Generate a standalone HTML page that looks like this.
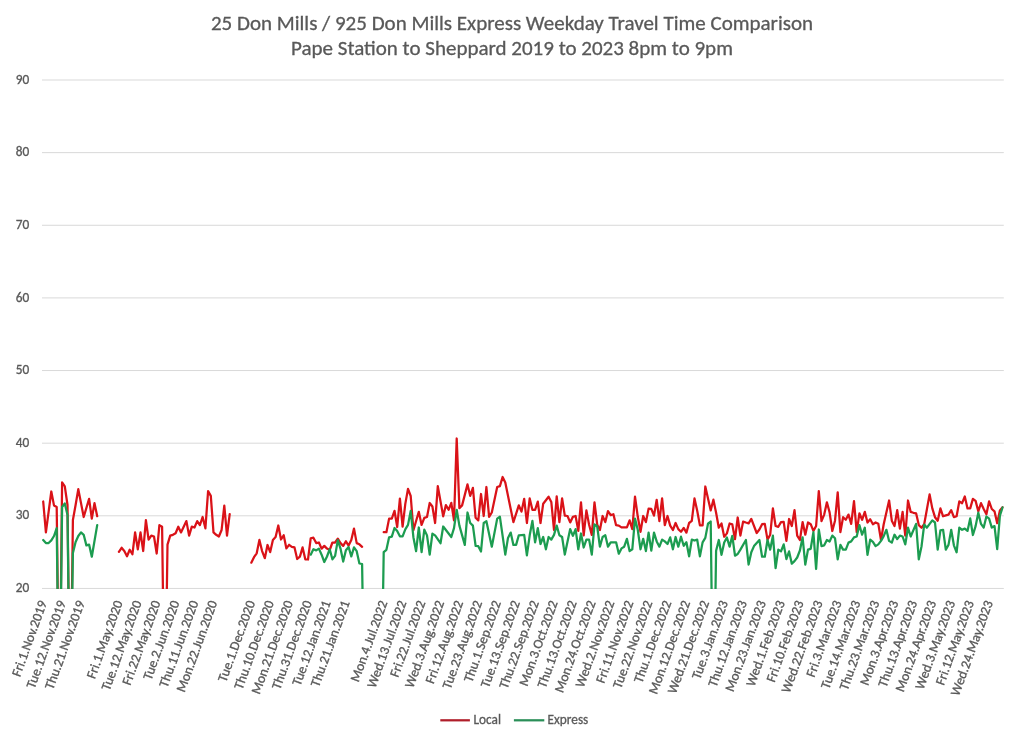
<!DOCTYPE html><html><head><meta charset="utf-8"><title>25 Don Mills / 925 Don Mills Express Weekday Travel Time Comparison</title>
<style>html,body{margin:0;padding:0;background:#fff;}svg{display:block;}text{font-family:Carlito, "Liberation Sans", sans-serif;fill:#595959;stroke:#595959;stroke-width:0.3px;}</style></head><body>
<svg width="1024" height="740" viewBox="0 0 1024 740">
<rect width="1024" height="740" fill="#fff"/>
<text x="512" y="29.8" text-anchor="middle" font-size="21.0" textLength="602.11" lengthAdjust="spacingAndGlyphs">25 Don Mills / 925 Don Mills Express Weekday Travel Time Comparison</text>
<text x="512" y="55.0" text-anchor="middle" font-size="21.0" textLength="441.86" lengthAdjust="spacingAndGlyphs">Pape Station to Sheppard 2019 to 2023 8pm to 9pm</text>
<line x1="42.0" x2="1003.8" y1="588.45" y2="588.45" stroke="#d9d9d9" stroke-width="1"/>
<text x="29.2" y="592.05" text-anchor="end" font-size="13.3" textLength="13.48" lengthAdjust="spacingAndGlyphs">20</text>
<line x1="42.0" x2="1003.8" y1="515.81" y2="515.81" stroke="#d9d9d9" stroke-width="1"/>
<text x="29.2" y="519.41" text-anchor="end" font-size="13.3" textLength="13.48" lengthAdjust="spacingAndGlyphs">30</text>
<line x1="42.0" x2="1003.8" y1="443.18" y2="443.18" stroke="#d9d9d9" stroke-width="1"/>
<text x="29.2" y="446.78" text-anchor="end" font-size="13.3" textLength="13.48" lengthAdjust="spacingAndGlyphs">40</text>
<line x1="42.0" x2="1003.8" y1="370.54" y2="370.54" stroke="#d9d9d9" stroke-width="1"/>
<text x="29.2" y="374.14" text-anchor="end" font-size="13.3" textLength="13.48" lengthAdjust="spacingAndGlyphs">50</text>
<line x1="42.0" x2="1003.8" y1="297.91" y2="297.91" stroke="#d9d9d9" stroke-width="1"/>
<text x="29.2" y="301.51" text-anchor="end" font-size="13.3" textLength="13.48" lengthAdjust="spacingAndGlyphs">60</text>
<line x1="42.0" x2="1003.8" y1="225.27" y2="225.27" stroke="#d9d9d9" stroke-width="1"/>
<text x="29.2" y="228.87" text-anchor="end" font-size="13.3" textLength="13.48" lengthAdjust="spacingAndGlyphs">70</text>
<line x1="42.0" x2="1003.8" y1="152.64" y2="152.64" stroke="#d9d9d9" stroke-width="1"/>
<text x="29.2" y="156.24" text-anchor="end" font-size="13.3" textLength="13.48" lengthAdjust="spacingAndGlyphs">80</text>
<line x1="42.0" x2="1003.8" y1="80.00" y2="80.00" stroke="#d9d9d9" stroke-width="1"/>
<text x="29.2" y="83.60" text-anchor="end" font-size="13.3" textLength="13.48" lengthAdjust="spacingAndGlyphs">90</text>
<text transform="translate(47.20,602.5) rotate(-70)" text-anchor="end" font-size="13.6" textLength="79.77" lengthAdjust="spacingAndGlyphs">Fri.1.Nov.2019</text>
<text transform="translate(66.12,602.5) rotate(-70)" text-anchor="end" font-size="13.6" textLength="92.23" lengthAdjust="spacingAndGlyphs">Tue.12.Nov.2019</text>
<text transform="translate(85.03,602.5) rotate(-70)" text-anchor="end" font-size="13.6" textLength="93.45" lengthAdjust="spacingAndGlyphs">Thu.21.Nov.2019</text>
<text transform="translate(122.87,602.5) rotate(-70)" text-anchor="end" font-size="13.6" textLength="82.00" lengthAdjust="spacingAndGlyphs">Fri.1.May.2020</text>
<text transform="translate(141.79,602.5) rotate(-70)" text-anchor="end" font-size="13.6" textLength="94.47" lengthAdjust="spacingAndGlyphs">Tue.12.May.2020</text>
<text transform="translate(160.71,602.5) rotate(-70)" text-anchor="end" font-size="13.6" textLength="88.89" lengthAdjust="spacingAndGlyphs">Fri.22.May.2020</text>
<text transform="translate(179.62,602.5) rotate(-70)" text-anchor="end" font-size="13.6" textLength="83.19" lengthAdjust="spacingAndGlyphs">Tue.2.Jun.2020</text>
<text transform="translate(198.54,602.5) rotate(-70)" text-anchor="end" font-size="13.6" textLength="91.30" lengthAdjust="spacingAndGlyphs">Thu.11.Jun.2020</text>
<text transform="translate(217.46,602.5) rotate(-70)" text-anchor="end" font-size="13.6" textLength="96.31" lengthAdjust="spacingAndGlyphs">Mon.22.Jun.2020</text>
<text transform="translate(255.29,602.5) rotate(-70)" text-anchor="end" font-size="13.6" textLength="85.31" lengthAdjust="spacingAndGlyphs">Tue.1.Dec.2020</text>
<text transform="translate(274.21,602.5) rotate(-70)" text-anchor="end" font-size="13.6" textLength="93.42" lengthAdjust="spacingAndGlyphs">Thu.10.Dec.2020</text>
<text transform="translate(293.13,602.5) rotate(-70)" text-anchor="end" font-size="13.6" textLength="98.45" lengthAdjust="spacingAndGlyphs">Mon.21.Dec.2020</text>
<text transform="translate(312.05,602.5) rotate(-70)" text-anchor="end" font-size="13.6" textLength="93.42" lengthAdjust="spacingAndGlyphs">Thu.31.Dec.2020</text>
<text transform="translate(330.96,602.5) rotate(-70)" text-anchor="end" font-size="13.6" textLength="89.44" lengthAdjust="spacingAndGlyphs">Tue.12.Jan.2021</text>
<text transform="translate(349.88,602.5) rotate(-70)" text-anchor="end" font-size="13.6" textLength="90.66" lengthAdjust="spacingAndGlyphs">Thu.21.Jan.2021</text>
<text transform="translate(387.72,602.5) rotate(-70)" text-anchor="end" font-size="13.6" textLength="85.41" lengthAdjust="spacingAndGlyphs">Mon.4.Jul.2022</text>
<text transform="translate(406.63,602.5) rotate(-70)" text-anchor="end" font-size="13.6" textLength="91.86" lengthAdjust="spacingAndGlyphs">Wed.13.Jul.2022</text>
<text transform="translate(425.55,602.5) rotate(-70)" text-anchor="end" font-size="13.6" textLength="80.47" lengthAdjust="spacingAndGlyphs">Fri.22.Jul.2022</text>
<text transform="translate(444.47,602.5) rotate(-70)" text-anchor="end" font-size="13.6" textLength="91.73" lengthAdjust="spacingAndGlyphs">Wed.3.Aug.2022</text>
<text transform="translate(463.38,602.5) rotate(-70)" text-anchor="end" font-size="13.6" textLength="87.23" lengthAdjust="spacingAndGlyphs">Fri.12.Aug.2022</text>
<text transform="translate(482.30,602.5) rotate(-70)" text-anchor="end" font-size="13.6" textLength="92.81" lengthAdjust="spacingAndGlyphs">Tue.23.Aug.2022</text>
<text transform="translate(501.22,602.5) rotate(-70)" text-anchor="end" font-size="13.6" textLength="85.81" lengthAdjust="spacingAndGlyphs">Thu.1.Sep.2022</text>
<text transform="translate(520.14,602.5) rotate(-70)" text-anchor="end" font-size="13.6" textLength="91.48" lengthAdjust="spacingAndGlyphs">Tue.13.Sep.2022</text>
<text transform="translate(539.06,602.5) rotate(-70)" text-anchor="end" font-size="13.6" textLength="92.70" lengthAdjust="spacingAndGlyphs">Thu.22.Sep.2022</text>
<text transform="translate(557.97,602.5) rotate(-70)" text-anchor="end" font-size="13.6" textLength="89.84" lengthAdjust="spacingAndGlyphs">Mon.3.Oct.2022</text>
<text transform="translate(576.89,602.5) rotate(-70)" text-anchor="end" font-size="13.6" textLength="91.70" lengthAdjust="spacingAndGlyphs">Thu.13.Oct.2022</text>
<text transform="translate(595.81,602.5) rotate(-70)" text-anchor="end" font-size="13.6" textLength="96.73" lengthAdjust="spacingAndGlyphs">Mon.24.Oct.2022</text>
<text transform="translate(614.73,602.5) rotate(-70)" text-anchor="end" font-size="13.6" textLength="91.16" lengthAdjust="spacingAndGlyphs">Wed.2.Nov.2022</text>
<text transform="translate(633.64,602.5) rotate(-70)" text-anchor="end" font-size="13.6" textLength="86.66" lengthAdjust="spacingAndGlyphs">Fri.11.Nov.2022</text>
<text transform="translate(652.56,602.5) rotate(-70)" text-anchor="end" font-size="13.6" textLength="92.23" lengthAdjust="spacingAndGlyphs">Tue.22.Nov.2022</text>
<text transform="translate(671.48,602.5) rotate(-70)" text-anchor="end" font-size="13.6" textLength="86.53" lengthAdjust="spacingAndGlyphs">Thu.1.Dec.2022</text>
<text transform="translate(690.40,602.5) rotate(-70)" text-anchor="end" font-size="13.6" textLength="98.45" lengthAdjust="spacingAndGlyphs">Mon.12.Dec.2022</text>
<text transform="translate(709.31,602.5) rotate(-70)" text-anchor="end" font-size="13.6" textLength="98.02" lengthAdjust="spacingAndGlyphs">Wed.21.Dec.2022</text>
<text transform="translate(728.23,602.5) rotate(-70)" text-anchor="end" font-size="13.6" textLength="82.55" lengthAdjust="spacingAndGlyphs">Tue.3.Jan.2023</text>
<text transform="translate(747.15,602.5) rotate(-70)" text-anchor="end" font-size="13.6" textLength="90.66" lengthAdjust="spacingAndGlyphs">Thu.12.Jan.2023</text>
<text transform="translate(766.07,602.5) rotate(-70)" text-anchor="end" font-size="13.6" textLength="95.69" lengthAdjust="spacingAndGlyphs">Mon.23.Jan.2023</text>
<text transform="translate(784.98,602.5) rotate(-70)" text-anchor="end" font-size="13.6" textLength="90.20" lengthAdjust="spacingAndGlyphs">Wed.1.Feb.2023</text>
<text transform="translate(803.90,602.5) rotate(-70)" text-anchor="end" font-size="13.6" textLength="85.70" lengthAdjust="spacingAndGlyphs">Fri.10.Feb.2023</text>
<text transform="translate(822.82,602.5) rotate(-70)" text-anchor="end" font-size="13.6" textLength="97.09" lengthAdjust="spacingAndGlyphs">Wed.22.Feb.2023</text>
<text transform="translate(841.74,602.5) rotate(-70)" text-anchor="end" font-size="13.6" textLength="80.36" lengthAdjust="spacingAndGlyphs">Fri.3.Mar.2023</text>
<text transform="translate(860.65,602.5) rotate(-70)" text-anchor="end" font-size="13.6" textLength="92.83" lengthAdjust="spacingAndGlyphs">Tue.14.Mar.2023</text>
<text transform="translate(879.57,602.5) rotate(-70)" text-anchor="end" font-size="13.6" textLength="94.06" lengthAdjust="spacingAndGlyphs">Thu.23.Mar.2023</text>
<text transform="translate(898.49,602.5) rotate(-70)" text-anchor="end" font-size="13.6" textLength="89.14" lengthAdjust="spacingAndGlyphs">Mon.3.Apr.2023</text>
<text transform="translate(917.41,602.5) rotate(-70)" text-anchor="end" font-size="13.6" textLength="91.02" lengthAdjust="spacingAndGlyphs">Thu.13.Apr.2023</text>
<text transform="translate(936.32,602.5) rotate(-70)" text-anchor="end" font-size="13.6" textLength="96.03" lengthAdjust="spacingAndGlyphs">Mon.24.Apr.2023</text>
<text transform="translate(955.24,602.5) rotate(-70)" text-anchor="end" font-size="13.6" textLength="93.39" lengthAdjust="spacingAndGlyphs">Wed.3.May.2023</text>
<text transform="translate(974.16,602.5) rotate(-70)" text-anchor="end" font-size="13.6" textLength="88.89" lengthAdjust="spacingAndGlyphs">Fri.12.May.2023</text>
<text transform="translate(993.08,602.5) rotate(-70)" text-anchor="end" font-size="13.6" textLength="100.28" lengthAdjust="spacingAndGlyphs">Wed.24.May.2023</text>
<clipPath id="pa"><rect x="42.0" y="75.0" width="961.8" height="513.95"/></clipPath>
<g clip-path="url(#pa)" fill="none" stroke-linejoin="round" stroke-linecap="round">
<polyline stroke="#da1218" stroke-width="2.25" points="43.2,501.5 45.9,532.4 51.3,491.5 54.0,505.4 56.7,506.9 59.4,733.0 62.1,482.3 64.8,486.3 67.5,505.0 70.2,733.0 72.9,520.0 75.6,505.0 78.3,489.1 83.7,517.0 89.1,498.8 91.8,518.6 94.5,503.2 97.2,516.2"/>
<polyline stroke="#da1218" stroke-width="2.25" points="118.9,551.8 121.6,547.8 124.3,551.0 127.0,556.2 129.7,549.7 132.4,554.3 135.1,532.4 137.8,549.4 140.5,532.4 143.2,551.0 145.9,520.2 148.6,539.7 151.3,535.6 154.0,536.5 156.7,553.5 159.4,525.1 162.1,526.7 164.8,733.0 167.5,544.6 170.2,535.6 172.9,534.8 175.6,533.2 178.3,526.7 181.0,532.4 186.4,521.1 189.1,535.6 191.8,526.7 194.5,527.5 197.2,521.1 199.9,525.1 202.6,517.0 205.4,528.3 208.1,491.1 210.8,495.9 213.5,532.4 216.2,534.8 218.9,536.5 221.6,530.0 224.3,505.7 227.0,535.6 229.7,514.1"/>
<polyline stroke="#da1218" stroke-width="2.25" points="251.3,562.7 254.0,557.2 256.7,553.3 259.4,539.9 262.1,551.1 264.8,558.2 267.5,545.0 270.2,552.1 272.9,540.1 275.6,537.1 278.3,525.5 281.0,539.5 283.7,535.3 286.4,548.4 289.1,544.8 291.8,546.8 294.5,547.4 297.2,559.0 299.9,556.6 302.6,547.4 305.3,559.3 308.0,559.5 310.7,538.3 313.4,537.7 316.2,543.1 318.9,542.5 321.6,548.6 324.3,545.9 327.0,548.6 329.7,550.0 332.4,542.5 335.1,542.5 337.8,538.6 340.5,543.1 343.2,545.9 345.9,541.3 348.6,545.6 351.3,540.0 354.0,528.6 356.7,543.1 359.4,544.3 362.1,546.8"/>
<polyline stroke="#da1218" stroke-width="2.25" points="383.7,532.2 386.4,532.2 389.1,518.6 391.8,518.6 394.5,510.8 397.2,527.0 399.9,498.6 402.6,526.7 405.3,503.9 408.0,488.9 410.7,496.0 413.4,530.2 418.8,511.8 421.6,524.9 424.3,517.9 427.0,517.0 429.7,503.0 432.4,506.5 435.1,523.0 437.8,486.1 443.2,516.3 445.9,505.1 448.6,509.8 451.3,502.8 454.0,520.4 456.7,438.5 459.4,508.1 462.1,505.4 467.5,484.4 470.2,495.8 472.9,487.9 475.6,517.7 478.3,520.4 481.0,494.0 483.7,516.0 486.4,487.0 489.1,516.8 491.8,512.5 497.2,487.0 499.9,486.1 502.6,477.0 505.3,482.6 510.7,509.0 513.4,522.1 518.8,505.4 521.5,511.6 524.2,498.8 526.9,523.0 529.7,498.4 532.4,509.8 535.1,509.8 537.8,501.6 540.5,523.0 543.2,503.7 545.9,500.2 548.6,496.7 551.3,501.9 554.0,530.0 556.7,496.3 559.4,522.1 562.1,498.4 564.8,515.6 567.5,516.0 570.2,522.4 572.9,516.8 575.6,516.0 578.3,530.9 581.0,502.3 583.7,535.3 586.4,510.4 589.1,524.7 591.8,534.9 594.5,502.3 597.2,524.7 599.9,530.0 602.6,516.0 605.3,522.1 608.0,511.1 610.7,515.1 613.4,514.2 616.1,525.2 618.8,525.6 621.5,527.4 624.2,527.4 626.9,527.4 629.6,520.4 632.3,529.1 635.0,496.7 637.8,516.8 640.5,531.8 643.2,516.0 645.9,522.1 648.6,508.6 651.3,508.9 654.0,515.6 656.7,499.8 659.4,521.2 662.1,498.4 664.8,525.2 667.5,516.0 670.2,525.6 672.9,530.0 675.6,523.0 678.3,529.1 681.0,531.8 683.7,527.9 686.4,532.6 689.1,523.0 691.8,520.9 694.5,498.4 697.2,510.7 699.9,525.4 702.6,525.4 705.3,486.5 710.7,510.4 713.4,499.7 716.1,512.8 718.8,527.7 721.5,523.5 724.2,536.7 726.9,533.4 729.6,523.5 732.3,524.4 735.0,539.2 737.7,517.5 740.4,535.6 743.1,521.6 745.9,522.5 748.6,523.3 751.3,518.9 756.7,533.0 759.4,529.5 762.1,524.2 764.8,523.9 767.5,539.6 770.2,534.7 772.9,508.4 775.6,526.0 778.3,526.8 781.0,522.1 783.7,521.8 786.4,540.9 789.1,519.0 791.8,526.0 794.5,510.2 797.2,535.6 799.9,540.0 802.6,522.1 805.3,534.7 808.0,522.5 810.7,524.2 813.4,530.9 816.1,526.0 818.8,491.2 821.5,521.1 824.2,514.6 826.9,502.3 829.6,512.4 832.3,531.0 835.0,520.7 837.7,492.3 840.4,532.1 843.1,517.2 845.8,519.8 848.5,514.6 851.2,523.9 854.0,501.1 856.7,532.1 859.4,513.3 862.1,519.8 864.8,511.9 867.5,522.5 870.2,519.3 872.9,524.2 875.6,522.5 878.3,523.8 881.0,540.0 883.7,524.2 889.1,500.5 891.8,520.7 894.5,526.0 897.2,510.2 899.9,528.6 902.6,511.9 905.3,535.6 908.0,500.5 910.7,511.9 913.4,512.8 916.1,513.3 918.8,525.1 921.5,527.7 924.2,524.2 929.6,494.4 932.3,508.4 935.0,517.2 937.7,520.7 940.4,508.4 943.1,516.3 945.8,515.4 948.5,514.6 951.2,510.2 953.9,517.2 956.6,516.3 959.3,501.4 962.1,503.2 964.8,496.5 967.5,508.4 970.2,508.4 972.9,498.9 975.6,500.9 978.3,511.3 981.0,503.1 983.7,509.0 986.4,514.2 989.1,501.3 991.8,509.0 994.5,511.3 997.2,523.2 999.9,510.5 1002.6,507.3"/>
<polyline stroke="#1c9c50" stroke-width="2.25" points="43.2,540.0 45.9,543.0 48.6,543.0 51.3,540.4 54.0,536.0 56.7,528.1 59.4,733.0 62.1,507.0 64.8,503.4 67.5,515.0 70.2,733.0 72.9,553.0 75.6,542.0 78.3,536.0 81.0,532.4 83.7,534.8 86.4,545.4 89.1,544.6 91.8,556.7 97.2,525.1"/>
<polyline stroke="#1c9c50" stroke-width="2.25" points="310.7,554.7 313.4,549.2 316.2,550.4 318.9,548.6 321.6,554.7 324.3,562.0 327.0,556.5 329.7,549.2 332.4,559.3 335.1,555.9 337.8,540.1 340.5,548.6 343.2,561.6 345.9,550.3 348.6,547.0 351.3,556.4 354.0,547.4 356.7,551.2 359.4,563.5 362.1,564.0 364.8,733.0"/>
<polyline stroke="#1c9c50" stroke-width="2.25" points="381.0,733.0 383.7,552.2 386.4,549.8 389.1,537.3 391.8,536.7 394.5,528.0 397.2,531.1 399.9,536.3 402.6,536.3 405.3,529.3 408.0,524.9 410.7,510.9 413.4,537.2 416.1,551.2 418.8,527.5 421.6,552.1 424.3,529.6 427.0,535.4 429.7,554.7 432.4,533.7 435.1,535.4 440.5,543.2 443.2,526.5 445.9,530.0 451.3,537.0 454.0,528.2 456.7,509.8 459.4,525.6 464.8,544.9 467.5,512.5 470.2,523.0 472.9,525.6 475.6,545.8 478.3,546.2 481.0,551.5 483.7,523.0 486.4,521.2 491.8,546.7 497.2,518.6 499.9,516.8 505.3,554.6 508.0,537.9 510.7,532.6 513.4,544.9 516.1,544.9 518.8,535.3 524.2,534.9 526.9,555.4 529.7,535.3 532.4,520.9 535.1,542.3 537.8,528.2 540.5,544.0 543.2,537.0 545.9,549.3 548.6,537.0 551.3,539.6 554.0,534.9 556.7,525.6 559.4,535.3 562.1,537.0 564.8,554.6 570.2,529.1 572.9,535.8 575.6,529.1 578.3,549.3 581.0,533.5 583.7,547.5 586.4,539.6 589.1,539.6 591.8,554.6 594.5,524.4 597.2,526.5 599.9,546.7 602.6,537.0 605.3,535.3 608.0,546.7 610.7,542.3 616.1,542.3 618.8,553.7 621.5,548.4 624.2,546.7 626.9,538.8 629.6,551.1 632.3,549.3 635.0,518.6 637.8,530.0 640.5,549.3 643.2,538.8 645.9,551.1 648.6,532.6 651.3,550.7 654.0,532.6 656.7,541.4 659.4,546.7 662.1,539.6 664.8,541.4 667.5,544.0 670.2,537.4 672.9,549.3 675.6,537.0 678.3,546.7 681.0,536.7 683.7,545.8 686.4,542.3 689.1,556.3 691.8,539.6 694.5,540.5 697.2,539.6 699.9,556.4 702.6,542.4 705.3,537.9 708.0,523.7 710.7,521.5 713.4,733.0 716.1,550.7 718.8,540.0 721.5,554.8 724.2,542.5 726.9,537.5 729.6,546.6 732.3,535.9 735.0,555.7 737.7,554.0 740.4,549.6 745.9,540.0 748.6,564.6 751.3,552.3 754.0,546.1 759.4,540.0 762.1,556.7 764.8,556.7 767.5,540.0 770.2,549.6 772.9,535.6 775.6,568.1 778.3,549.6 781.0,551.4 783.7,544.4 786.4,559.1 789.1,551.4 791.8,563.7 794.5,561.1 797.2,557.5 799.9,550.5 802.6,537.4 805.3,564.6 808.0,549.6 810.7,548.8 813.4,532.1 816.1,569.0 818.8,529.5 821.5,546.1 824.2,545.3 826.9,540.0 829.6,541.5 832.3,535.6 835.0,538.2 837.7,559.3 840.4,544.9 843.1,549.6 845.8,549.6 848.5,542.6 851.2,541.4 854.0,537.4 856.7,536.5 859.4,525.1 862.1,534.7 864.8,527.7 867.5,554.9 870.2,539.6 872.9,541.8 875.6,546.1 878.3,544.4 881.0,540.9 883.7,536.1 886.4,529.8 889.1,540.9 891.8,542.6 894.5,534.7 897.2,539.1 899.9,535.6 902.6,536.5 905.3,544.4 908.0,527.7 910.7,536.5 916.1,523.9 918.8,559.3 921.5,546.5 924.2,524.6 926.9,527.7 932.3,520.4 935.0,522.5 937.7,549.6 940.4,530.4 943.1,529.8 945.8,549.6 948.5,544.9 951.2,529.8 953.9,545.3 956.6,552.3 959.3,527.7 962.1,529.8 964.8,528.6 967.5,530.9 970.2,518.4 972.9,535.0 975.6,526.1 978.3,512.7 981.0,523.9 983.7,527.6 986.4,516.5 989.1,518.7 991.8,527.6 994.5,526.1 997.2,549.2 999.9,515.7 1002.6,507.3"/>
</g>
<line x1="440.3" x2="469.9" y1="720.3" y2="720.3" stroke="#b01e2a" stroke-width="2.25"/>
<text x="473.5" y="724.3" font-size="13.3" textLength="27.55" lengthAdjust="spacingAndGlyphs">Local</text>
<line x1="513.9" x2="544.3" y1="720.3" y2="720.3" stroke="#2a8f58" stroke-width="2.25"/>
<text x="547.6" y="724.3" font-size="13.3" textLength="40.72" lengthAdjust="spacingAndGlyphs">Express</text>
</svg></body></html>
